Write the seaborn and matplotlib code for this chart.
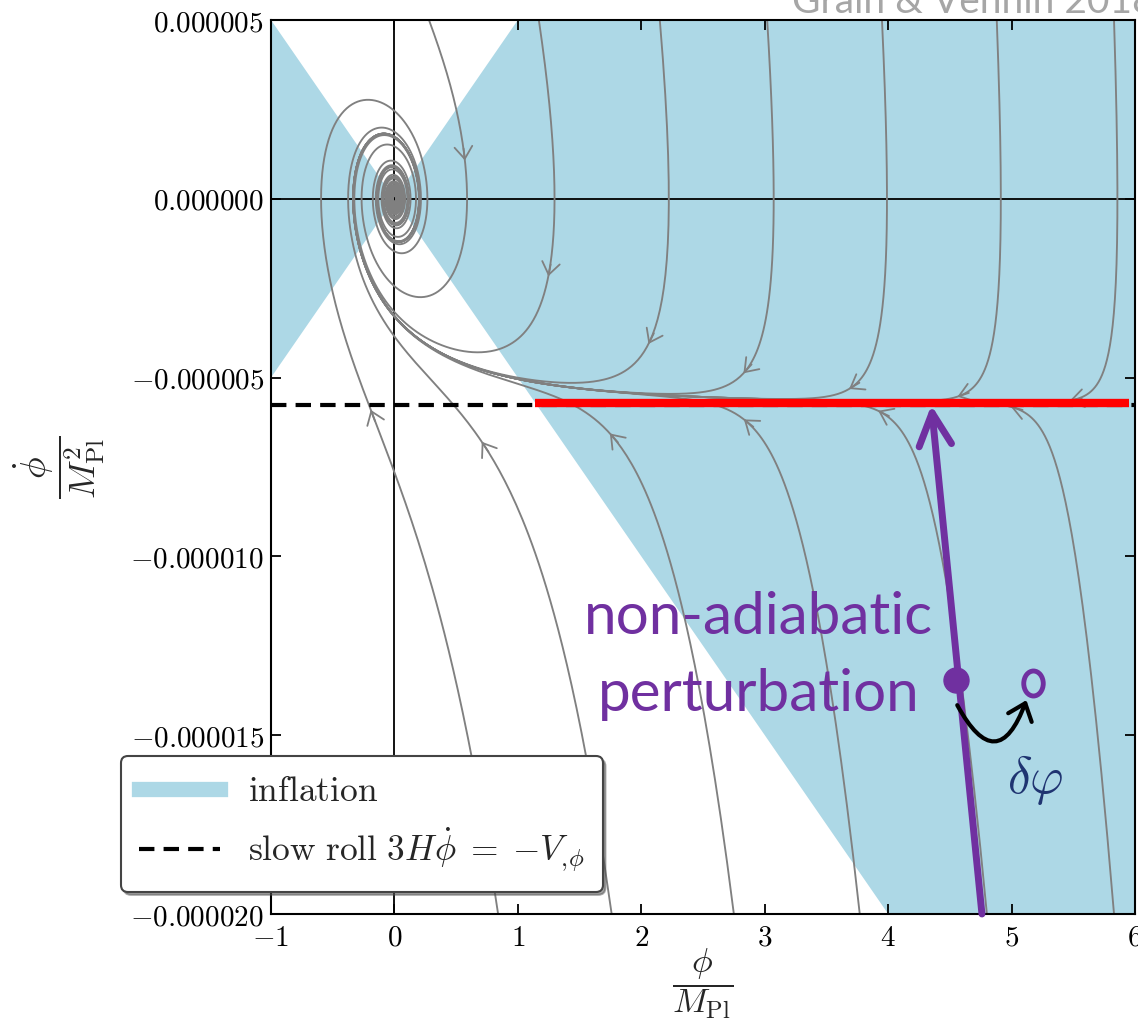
import numpy as np
import pandas as pd
import seaborn as sns
import matplotlib.pyplot as plt
from matplotlib.lines import Line2D
from matplotlib.path import Path
from matplotlib.markers import MarkerStyle
from matplotlib.transforms import Affine2D
from matplotlib.patches import FancyArrowPatch

# quadratic potential V = m^2 phi^2 / 2, mass (slope 5e-6)
mass = 7.07e-6
phi_lim = (-1, 6)
phidot_lim = (-2.0e-5, 5.0e-6)

# where the drawn trajectories enter the frame (top edge / bottom edge)
top_entry_phi = [0.28, 1.17, 2.15, 3.02, 3.95, 4.88, 5.83]
bottom_entry_phi = [0.84, 1.76, 2.75, 3.77, 4.80, 5.83]

x_ticks = [-1, 0, 1, 2, 3, 4, 5, 6]
y_ticks = [5e-6, 0.0, -5e-6, -1e-5, -1.5e-5, -2e-5]

# slide annotations drawn on top
red_segment_phi = [1.14, 5.95]
kick_from = (4.76, -2.0e-5)
kick_to = (4.35, -5.77e-6)
before_kick = (4.55, -1.347e-5)
after_kick = (5.17, -1.353e-5)
shift_start = (4.56, -1.416e-5)
shift_end = (5.12, -1.402e-5)


def rhs(p, u):
    # time in units of 1/m, velocity in units of m
    hubble = np.sqrt((p ** 2 + u ** 2) / 6.0)
    return u, -3.0 * hubble * u - p


n_top = len(top_entry_phi)
p = np.array(top_entry_phi + bottom_entry_phi, dtype=float)
u = np.array([phidot_lim[1]] * n_top + [phidot_lim[0]] * len(bottom_entry_phi)) / mass

dt, n_steps, keep = 0.004, 30000, 5
saved_p, saved_u = [p.copy()], [u.copy()]
for step in range(1, n_steps + 1):
    a1, b1 = rhs(p, u)
    a2, b2 = rhs(p + 0.5 * dt * a1, u + 0.5 * dt * b1)
    a3, b3 = rhs(p + 0.5 * dt * a2, u + 0.5 * dt * b2)
    a4, b4 = rhs(p + dt * a3, u + dt * b3)
    p = p + dt / 6 * (a1 + 2 * a2 + 2 * a3 + a4)
    u = u + dt / 6 * (b1 + 2 * b2 + 2 * b3 + b4)
    if step % keep == 0:
        saved_p.append(p.copy())
        saved_u.append(u.copy())
phi_path = np.array(saved_p)
phidot_path = np.array(saved_u) * mass

traj = pd.DataFrame({
    'phi': phi_path.T.ravel(),
    'phidot': phidot_path.T.ravel(),
    'line': np.repeat(np.arange(phi_path.shape[1]), phi_path.shape[0]),
})

sns.set_theme(style='ticks', rc={'font.family': 'serif', 'mathtext.fontset': 'cm'})

fig = plt.figure(figsize=(11.38, 10.24), dpi=100)
ax = fig.add_axes([271 / 1138, 1 - 914 / 1024, 864 / 1138, 894 / 1024])
ax.set_xlim(phi_lim)
ax.set_ylim(phidot_lim)

# inflating region: phidot^2 < V
phi_grid = np.linspace(phi_lim[0], phi_lim[1], 701)
edge = mass * np.abs(phi_grid) / np.sqrt(2)
ax.fill_between(phi_grid, -edge, edge, color='lightblue', lw=0, zorder=0)
ax.axhline(0, color='black', lw=1.3, zorder=1)
ax.axvline(0, color='black', lw=1.3, zorder=1)

sns.lineplot(data=traj, x='phi', y='phidot', units='line', estimator=None, sort=False,
             color='grey', linewidth=1.35, legend=False, ax=ax, zorder=2)

# one direction arrow per trajectory, at t = 0.7/m after entering
arrow_idx = int(round(0.7 / (dt * keep)))
for k in range(phi_path.shape[1]):
    a = ax.transData.transform((phi_path[arrow_idx - 1, k], phidot_path[arrow_idx - 1, k]))
    b = ax.transData.transform((phi_path[arrow_idx + 1, k], phidot_path[arrow_idx + 1, k]))
    d = (b - a) / np.hypot(*(b - a))
    ax.annotate('', xy=(phi_path[arrow_idx, k], phidot_path[arrow_idx, k]),
                xytext=(-12 * d[0], -12 * d[1]), textcoords='offset pixels',
                arrowprops=dict(arrowstyle='->,head_length=0.55,head_width=0.4', color='grey',
                                lw=1.3, mutation_scale=16, shrinkA=0, shrinkB=0), zorder=3)

slow_roll = -np.sqrt(2 / 3) * mass
sr_line = ax.axhline(slow_roll, color='black', lw=3, dashes=(3.7, 2.2), zorder=4,
                     label=r'$\mathrm{slow\ roll}\ 3H\dot{\phi}\;=\;{-}V_{,\!\phi}$')

sns.lineplot(x=red_segment_phi, y=[slow_roll + 0.06e-6] * 2, color='red', linewidth=6,
             solid_capstyle='butt', ax=ax, zorder=5)

purple = '#7030a0'
ax.annotate('', xy=kick_to, xytext=kick_from,
            arrowprops=dict(arrowstyle='->,head_length=0.9,head_width=0.45', color=purple,
                            lw=5, mutation_scale=26, shrinkA=0, shrinkB=0), zorder=6)
ax.plot(*before_kick, 'o', ms=18, color=purple, zorder=7)
oval = MarkerStyle(Path.unit_circle().transformed(Affine2D().scale(0.78, 1.0)))
ax.plot(*after_kick, marker=oval, ms=18, mfc='none', mec=purple, mew=3.5, zorder=7)
ax.add_patch(FancyArrowPatch(shift_start, shift_end, connectionstyle='arc3,rad=1.1',
                             arrowstyle='->,head_length=0.55,head_width=0.45', mutation_scale=20,
                             lw=3, color='black', shrinkA=0, shrinkB=0, zorder=7))

ax.text(2.953, -12.16e-6, 'non-adiabatic', family='Lato', fontsize=42, color=purple,
        ha='center', va='baseline', zorder=8)
ax.text(2.953, -14.31e-6, 'perturbation', family='Lato', fontsize=42, color=purple,
        ha='center', va='baseline', zorder=8)
ax.text(5.19, -16.25e-6, r'$\delta\varphi$', fontsize=37, color='#1f3471',
        ha='center', va='center', zorder=8)
fig.text(792 / 1138, 1 - 13 / 1024, 'Grain & Vennin 2018', family='Lato', fontsize=28,
         color='#a6a6a6', ha='left', va='baseline')

ax.set_xticks(x_ticks)
ax.set_yticks(y_ticks)
ax.xaxis.set_major_formatter(lambda v, pos: f'${v:.0f}$')
ax.yaxis.set_major_formatter(lambda v, pos: f'${v:.6f}$')
ax.tick_params(direction='in', top=True, right=True, length=7, width=1.3, labelsize=21,
               color='black', labelcolor='black')
ax.tick_params(axis='x', pad=7)
ax.tick_params(axis='y', pad=5)
for s in ax.spines.values():
    s.set_visible(True)
    s.set_linewidth(1.5)
    s.set_color('black')

ax.set_xlabel(r'$\dfrac{\phi}{M_{\rm Pl}}$', fontsize=25)
ax.set_ylabel(r'$\dfrac{\dot{\phi}}{M_{\rm Pl}^2}$', fontsize=26)
ax.xaxis.set_label_coords(0.5, -0.036)
ax.yaxis.set_label_coords(-0.19, 0.5)

infl_handle = Line2D([], [], color='lightblue', lw=11, solid_capstyle='projecting',
                     label=r'$\mathrm{inflation}$')
leg = ax.legend(handles=[infl_handle, sr_line], loc='lower left',
                bbox_to_anchor=(121 / 1138, 1 - 892 / 1024), bbox_transform=fig.transFigure,
                borderaxespad=0, fontsize=25.5, handlelength=2.3, borderpad=0.5,
                frameon=True, fancybox=True, shadow=True, framealpha=1, edgecolor='#444444')
leg.get_frame().set_linewidth(1.5)

fig.savefig('out.png', dpi=100)
